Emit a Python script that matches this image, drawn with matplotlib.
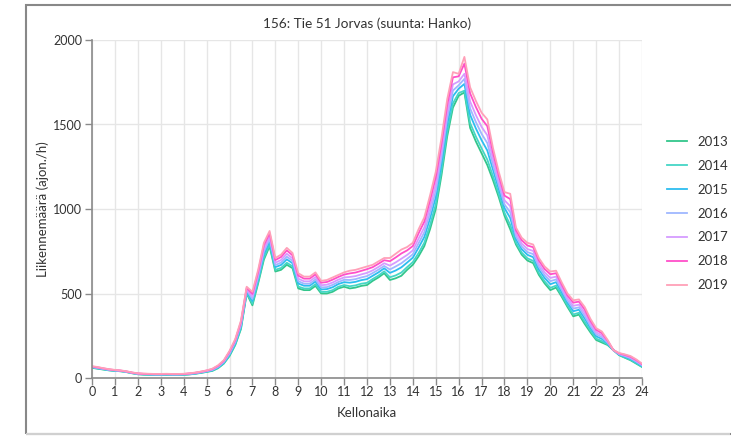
import numpy as np
import matplotlib
matplotlib.use("Agg")
import matplotlib.pyplot as plt
from matplotlib.patches import Rectangle

plt.rcParams["font.family"] = ["Lato", "DejaVu Sans"]

# kellonaika, 15 min valein
hours = np.arange(0, 24.01, 0.25)

years = ["2013", "2014", "2015", "2016", "2017", "2018", "2019"]
colors = ["#33c68b", "#45d6c6", "#2dbdf0", "#9fb7ff", "#d59cff", "#ff4fc9", "#ffa0b8"]

v2013 = [60, 55, 50, 45, 42, 40, 35, 28, 22, 20, 19, 18, 18, 19, 18, 18,
         19, 21, 25, 30, 36, 42, 58, 85, 130, 195, 290, 500, 430, 560, 700, 780,
         630, 640, 670, 650, 530, 520, 520, 545, 500, 500, 510, 530, 540, 530, 535, 545,
         550, 575, 595, 620, 580, 590, 605, 640, 670, 720, 780, 880, 1000, 1200, 1430, 1600,
         1670, 1690, 1480, 1400, 1330, 1260, 1170, 1070, 960, 880, 790, 730, 695, 680, 610, 560,
         520, 535, 480, 420, 365, 375, 320, 270, 225, 210, 195, 165, 135, 120, 105, 85,
         65]
v2014 = [62, 56, 51, 46, 43, 40, 36, 29, 23, 21, 20, 19, 19, 20, 19, 19,
         20, 22, 26, 31, 37, 44, 60, 87, 134, 199, 296, 505, 440, 570, 712, 791,
         640, 651, 682, 661, 541, 530, 530, 555, 509, 510, 520, 540, 550, 543, 548, 558,
         563, 586, 606, 631, 596, 607, 624, 656, 686, 739, 800, 904, 1026, 1226, 1456, 1625,
         1686, 1700, 1509, 1429, 1359, 1292, 1193, 1088, 977, 905, 802, 742, 708, 693, 622, 572,
         533, 547, 490, 430, 376, 386, 332, 280, 233, 218, 199, 166, 137, 122, 108, 88,
         67]
v2015 = [64, 58, 53, 47, 44, 42, 37, 30, 24, 22, 21, 20, 20, 21, 20, 20,
         21, 23, 27, 33, 39, 46, 63, 91, 140, 206, 306, 513, 456, 586, 732, 809,
         656, 669, 702, 679, 559, 546, 546, 571, 524, 526, 537, 556, 567, 564, 569, 579,
         585, 605, 625, 649, 622, 636, 655, 683, 712, 771, 834, 944, 1070, 1270, 1500, 1667,
         1712, 1740, 1557, 1477, 1407, 1346, 1231, 1118, 1005, 947, 822, 762, 729, 715, 642, 592,
         555, 567, 507, 446, 395, 404, 352, 296, 247, 231, 205, 164, 139, 126, 113, 93,
         71]
v2016 = [65, 60, 54, 48, 45, 42, 37, 30, 25, 23, 22, 21, 21, 22, 21, 21,
         22, 24, 28, 34, 40, 48, 66, 95, 144, 212, 314, 519, 468, 598, 748, 823,
         668, 683, 718, 693, 573, 558, 558, 583, 536, 538, 551, 568, 581, 580, 585, 595,
         603, 621, 641, 663, 642, 660, 679, 705, 732, 797, 862, 976, 1106, 1306, 1536, 1701,
         1732, 1770, 1595, 1515, 1445, 1390, 1261, 1142, 1027, 981, 838, 778, 745, 733, 658, 608,
         573, 583, 521, 458, 411, 418, 368, 308, 259, 241, 209, 166, 141, 130, 117, 97,
         75]
v2017 = [66, 61, 55, 50, 46, 43, 38, 31, 26, 24, 23, 22, 22, 23, 22, 22,
         23, 26, 30, 35, 42, 50, 69, 98, 150, 218, 322, 526, 482, 612, 765, 838,
         682, 698, 735, 708, 588, 572, 572, 597, 549, 552, 565, 582, 595, 598, 603, 613,
         622, 637, 657, 679, 665, 684, 706, 728, 755, 824, 891, 1010, 1143, 1343, 1573, 1737,
         1755, 1800, 1636, 1556, 1486, 1436, 1294, 1168, 1051, 1017, 855, 795, 763, 752, 675, 625,
         592, 600, 535, 472, 427, 434, 385, 322, 271, 252, 215, 165, 143, 133, 121, 101,
         78]
v2018 = [68, 63, 57, 51, 47, 44, 39, 32, 27, 25, 24, 23, 23, 24, 23, 23,
         24, 27, 31, 37, 44, 53, 72, 102, 156, 225, 332, 534, 498, 628, 785, 857,
         698, 716, 755, 726, 606, 588, 588, 613, 564, 568, 582, 598, 612, 619, 624, 634,
         644, 656, 676, 697, 691, 713, 737, 755, 781, 856, 925, 1050, 1187, 1387, 1617, 1779,
         1785, 1860, 1684, 1604, 1534, 1490, 1332, 1198, 1079, 1059, 875, 815, 784, 774, 695, 645,
         614, 620, 552, 488, 446, 452, 405, 338, 285, 265, 221, 166, 146, 137, 126, 106,
         82]
v2019 = [70, 65, 58, 52, 48, 45, 40, 33, 28, 26, 25, 24, 24, 25, 24, 24,
         25, 28, 32, 38, 45, 55, 75, 105, 160, 230, 340, 540, 510, 640, 800, 870,
         710, 730, 770, 740, 620, 600, 600, 625, 575, 580, 595, 610, 625, 635, 640, 650,
         660, 670, 690, 710, 710, 735, 760, 775, 800, 880, 950, 1080, 1220, 1420, 1650, 1810,
         1800, 1900, 1720, 1640, 1570, 1530, 1360, 1220, 1100, 1090, 890, 830, 800, 790, 710, 660,
         630, 635, 565, 500, 460, 465, 420, 350, 295, 275, 225, 165, 148, 140, 130, 110,
         85]
series = [v2013, v2014, v2015, v2016, v2017, v2018, v2019]

fig = plt.figure(figsize=(7.31, 4.36), dpi=100)
ax = fig.add_axes([92/731, 1-378/436, 550/731, 338/436])

for name, vals, c in zip(years, series, colors):
    ax.plot(hours, vals, color=c, lw=1.3, label=name, solid_joinstyle="round")

ax.set_xlim(0, 24)
ax.set_ylim(0, 2000)
ax.set_xticks(range(0, 25))
ax.set_yticks([0, 500, 1000, 1500, 2000])
ax.grid(True, color="#e6e6e6", lw=1)
ax.set_axisbelow(True)
for s in ["top", "right"]:
    ax.spines[s].set_visible(False)
for s in ["left", "bottom"]:
    ax.spines[s].set_color("#8a8a8a")
    ax.spines[s].set_linewidth(1.2)
ax.tick_params(colors="#8a8a8a", length=5, width=1, labelcolor="#333333", labelsize=9)
ax.tick_params(axis="y", pad=2)
ax.tick_params(axis="x", pad=1)

ax.set_title("156: Tie 51 Jorvas (suunta: Hanko)", fontsize=9.8, color="#333333", pad=9)
ax.set_xlabel("Kellonaika", fontsize=9.5, color="#333333", labelpad=6)
ax.set_ylabel("Liikennemäärä (ajon./h)", fontsize=9.5, color="#333333", labelpad=3)

ax.legend(loc="upper left", bbox_to_anchor=(655/731, 1-124/436), bbox_transform=fig.transFigure,
          frameon=False, fontsize=9.5, handlelength=1.5, labelspacing=0.9, handletextpad=0.8,
          labelcolor="#333333")

# screenshot frame
fig.patches.append(Rectangle((26/731, 2/436), 730/731, 1-7/436, transform=fig.transFigure,
                             fill=False, edgecolor="#888888", lw=1.5))
fig.patches.append(Rectangle((26/731, 2/436), 704/731, 0, transform=fig.transFigure,
                             fill=False, edgecolor="#d0d0d0", lw=1.5))

fig.savefig("out.png", dpi=100)
